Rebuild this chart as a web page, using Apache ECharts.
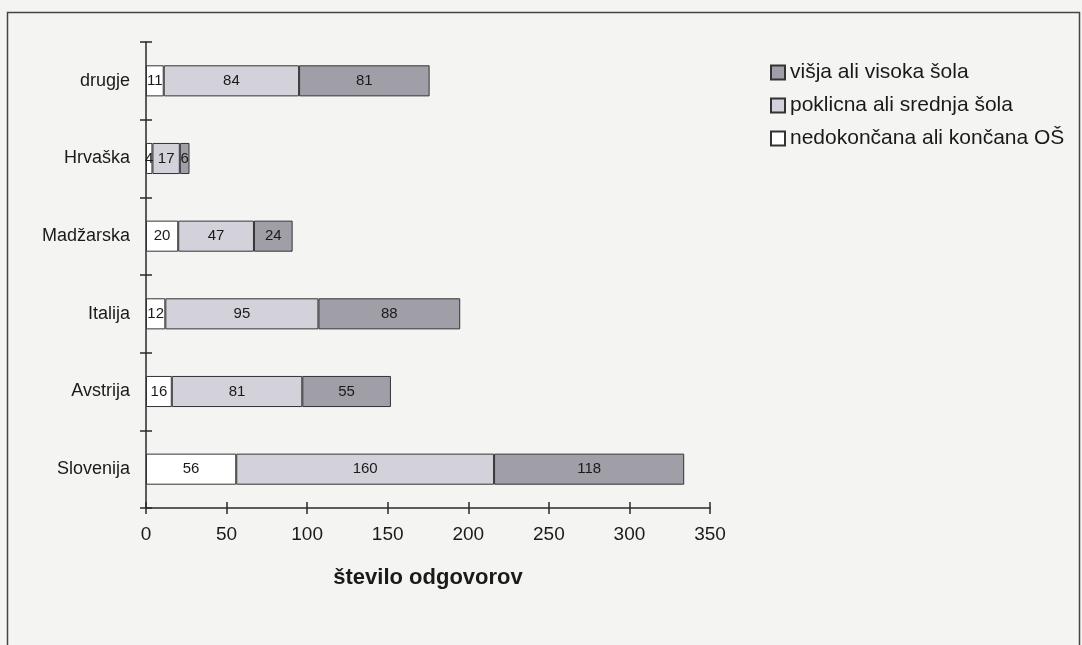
<!DOCTYPE html>
<html>
<head>
<meta charset="utf-8">
<title>število odgovorov</title>
<script src="https://cdn.jsdelivr.net/npm/echarts@6/dist/echarts.min.js"></script>
<style>
  html, body { margin: 0; padding: 0; background: #f4f4f3; }
  #chart { width: 1082px; height: 645px; }
</style>
</head>
<body>
<div id="chart"></div>
<script>
// kategorije od spodaj navzgor
var countries = ['Slovenija', 'Avstrija', 'Italija', 'Madžarska', 'Hrvaška', 'drugje'];
var osnovna = [56, 16, 12, 20, 4, 11];      // nedokončana ali končana OŠ
var srednja = [160, 81, 95, 47, 17, 84];    // poklicna ali srednja šola
var visoka = [118, 55, 88, 24, 6, 81];      // višja ali visoka šola
var xTicks = [0, 350, 50]; // min, max, interval

var font = 'Liberation Sans, Arial, sans-serif';
var axisColor = '#2a2a2a';

function barSeries(name, data, color) {
  return {
    name: name,
    type: 'bar',
    stack: 'all',
    barWidth: '40%',
    data: data,
    itemStyle: { color: color, borderColor: '#333', borderWidth: 1 },
    label: {
      show: true,
      position: 'inside',
      color: '#1a1a1a',
      fontFamily: font,
      fontSize: 15
    }
  };
}

var myChart = echarts.init(document.getElementById('chart'));
myChart.setOption({
  animation: false,
  backgroundColor: '#f4f4f3',
  graphic: [{
    type: 'rect',
    shape: { x: 7.5, y: 12.5, width: 1072, height: 650 },
    style: { fill: 'none', stroke: '#444', lineWidth: 1.5 },
    silent: true
  }],
  grid: { left: 146, top: 42, right: 372, bottom: 137 },
  legend: {
    orient: 'vertical',
    left: 765,
    top: 57,
    itemWidth: 14,
    itemHeight: 14,
    itemGap: 12,
    icon: 'rect',
    textStyle: { fontFamily: font, fontSize: 21, color: '#1a1a1a' },
    data: ['višja ali visoka šola', 'poklicna ali srednja šola', 'nedokončana ali končana OŠ']
  },
  xAxis: [{
    type: 'value',
    min: xTicks[0],
    max: xTicks[1],
    interval: xTicks[2],
    name: 'število odgovorov',
    nameLocation: 'middle',
    nameGap: 59,
    nameTextStyle: { fontFamily: font, fontSize: 22, fontWeight: 'bold', color: '#1a1a1a' },
    axisLine: { show: true, lineStyle: { color: axisColor, width: 1.5 } },
    axisTick: { show: true, length: 6, lineStyle: { color: axisColor, width: 1.5 } },
    axisLabel: { fontFamily: font, fontSize: 19, color: '#1a1a1a', margin: 17 },
    splitLine: { show: false }
  }, {
    // druga polovica prekrižanih oznak
    type: 'value',
    position: 'bottom',
    min: xTicks[0],
    max: xTicks[1],
    interval: xTicks[2],
    axisLine: { show: false },
    axisTick: { show: true, inside: true, length: 6, lineStyle: { color: axisColor, width: 1.5 } },
    axisLabel: { show: false },
    splitLine: { show: false }
  }],
  yAxis: [{
    type: 'category',
    data: countries,
    axisLine: { show: true, lineStyle: { color: axisColor, width: 1.5 } },
    axisTick: { show: true, length: 6, lineStyle: { color: axisColor, width: 1.5 } },
    axisLabel: { fontFamily: font, fontSize: 18, color: '#1a1a1a', margin: 16 },
    splitLine: { show: false }
  }, {
    type: 'category',
    position: 'left',
    data: countries,
    axisLine: { show: false },
    axisTick: { show: true, inside: true, length: 6, lineStyle: { color: axisColor, width: 1.5 } },
    axisLabel: { show: false },
    splitLine: { show: false }
  }],
  series: [
    barSeries('nedokončana ali končana OŠ', osnovna, '#ffffff'),
    barSeries('poklicna ali srednja šola', srednja, '#d3d2da'),
    barSeries('višja ali visoka šola', visoka, '#a09fa7')
  ]
});
</script>
</body>
</html>
